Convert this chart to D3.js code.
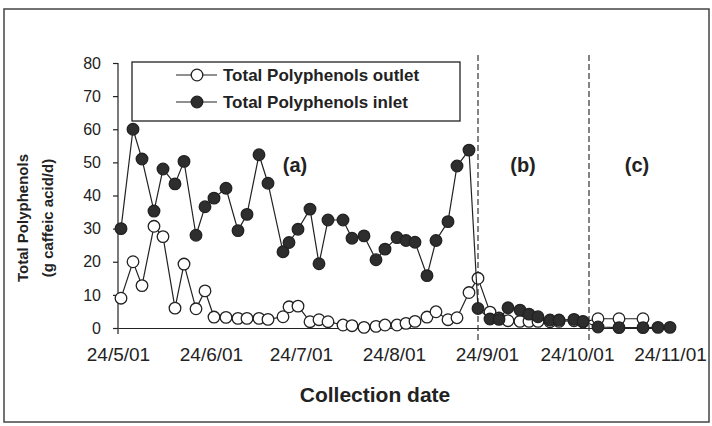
<!DOCTYPE html>
<html>
<head>
<meta charset="utf-8">
<script src="https://cdn.jsdelivr.net/npm/d3@7"></script>
<style>
  body { margin: 0; background: #fff; }
  text { font-family: "Liberation Sans", Arial, sans-serif; fill: #222; }
</style>
</head>
<body>
<script>
const width = 712;
const height = 426;

// sampling dates (2001) and daily loads, g caffeic acid/d
const dates = [
    "2001-05-25", "2001-05-29", "2001-06-01", "2001-06-05", "2001-06-08",
    "2001-06-12", "2001-06-15", "2001-06-19", "2001-06-22", "2001-06-25",
    "2001-06-29", "2001-07-03", "2001-07-06", "2001-07-10", "2001-07-13",
    "2001-07-18", "2001-07-20", "2001-07-23", "2001-07-27", "2001-07-30",
    "2001-08-02", "2001-08-07", "2001-08-10", "2001-08-14", "2001-08-18",
    "2001-08-21", "2001-08-25", "2001-08-28", "2001-08-31", "2001-09-04",
    "2001-09-07", "2001-09-11", "2001-09-14", "2001-09-18", "2001-09-21",
    "2001-09-25", "2001-09-28", "2001-10-01", "2001-10-05", "2001-10-08",
    "2001-10-11", "2001-10-15", "2001-10-18", "2001-10-23", "2001-10-26",
    "2001-10-31", "2001-11-07", "2001-11-15", "2001-11-20", "2001-11-24"
];
const outlet = [
    9, 20, 12.8, 30.7, 27.6, 6, 19.3, 5.8, 11.2, 3.3,
    3.2, 2.9, 2.9, 2.9, 2.6, 3.4, 6.4, 6.6, 1.9, 2.5,
    1.9, 0.9, 0.7, 0.2, 0.5, 0.9, 0.9, 1.4, 2.0, 3.3,
    4.9, 2.5, 3.1, 10.7, 15, 4.8, 3.0, 2.2, 2.0, 2.0,
    2.0, 1.9, 2.0, 2.2, 1.8, 2.8, 2.8, 2.8, null, null
];
const inlet = [
    30, 60, 51, 35.3, 48, 43.5, 50.3, 28, 36.6, 39.2,
    42.2, 29.4, 34.3, 52.3, 43.7, 23, 25.8, 29.8, 35.9, 19.4,
    32.6, 32.6, 27.1, 27.8, 20.6, 23.8, 27.3, 26.4, 25.9, 15.8,
    26.4, 32.1, 48.9, 53.7, 5.9, 2.7, 2.6, 6.1, 5.4, 4.2,
    3.4, 2.4, 2.4, 2.6, 2.0, 0.3, 0.1, 0.1, 0.2, 0.2
];
const yTicks = [0, 10, 20, 30, 40, 50, 60, 70, 80];
const xTicks = ["2001-05-24", "2001-06-24", "2001-07-24", "2001-08-24",
    "2001-09-24", "2001-10-24", "2001-11-24"];
const dividers = ["2001-09-21", "2001-10-28"];
const phaseLabels = ["(a)", "(b)", "(c)"];
const phaseDates = ["2001-07-22", "2001-10-06", "2001-11-13"];
const seriesNames = ["Total Polyphenols outlet", "Total Polyphenols inlet"];

const parse = d3.timeParse("%Y-%m-%d");
const fmt = d3.timeFormat("%-d/%-m/%y");

const svg = d3.select("body").append("svg")
    .attr("width", width)
    .attr("height", height);

// outer frame
svg.append("rect")
    .attr("x", 4).attr("y", 9)
    .attr("width", 705).attr("height", 413)
    .attr("fill", "none")
    .attr("stroke", "#444")
    .attr("stroke-width", 1.5);

const x = d3.scaleTime()
    .domain([parse("2001-05-24"), parse("2001-11-24")])
    .range([118, 670]);
const y = d3.scaleLinear()
    .domain([0, 80])
    .range([328, 63]);

// y axis
const yAxis = svg.append("g")
    .attr("transform", "translate(118,0)")
    .call(d3.axisLeft(y).tickValues(yTicks).tickSize(5).tickPadding(12));
yAxis.select(".domain").attr("stroke", "#222").attr("stroke-width", 1.2)
    .attr("d", "M0,63V334");
yAxis.selectAll(".tick line").attr("stroke", "#222").attr("stroke-width", 1.2);
yAxis.selectAll(".tick text")
    .attr("font-size", "16px")
    .attr("font-family", "Liberation Sans, Arial, sans-serif")
    .attr("fill", "#222");

// x axis
const xAxis = svg.append("g")
    .attr("transform", "translate(0,328)")
    .call(d3.axisBottom(x).tickValues(xTicks.map(parse)).tickFormat(fmt)
        .tickSize(0).tickSizeOuter(0).tickPadding(20));
xAxis.select(".domain").attr("stroke", "#222").attr("stroke-width", 1.2);
xAxis.selectAll(".tick text")
    .attr("font-size", "19px")
    .attr("font-family", "Liberation Sans, Arial, sans-serif")
    .attr("fill", "#222");

// axis titles
svg.append("text")
    .attr("x", 375).attr("y", 402)
    .attr("text-anchor", "middle")
    .attr("font-size", "21px")
    .attr("font-weight", "bold")
    .text("Collection date");

const yTitle = svg.append("text")
    .attr("transform", "translate(23,218) rotate(-90)")
    .attr("text-anchor", "middle")
    .attr("font-size", "15px")
    .attr("font-weight", "bold");
yTitle.append("tspan").attr("x", 0).attr("dy", "0.35em").text("Total Polyphenols");
yTitle.append("tspan").attr("x", 0).attr("dy", "1.65em").text("(g caffeic acid/d)");

// phase dividers
svg.selectAll(".divider")
    .data(dividers)
    .enter().append("line")
    .attr("class", "divider")
    .attr("x1", d => x(parse(d)))
    .attr("x2", d => x(parse(d)))
    .attr("y1", 55)
    .attr("y2", 340)
    .attr("stroke", "#333")
    .attr("stroke-width", 1.2)
    .attr("stroke-dasharray", "6,3");

svg.selectAll(".phase")
    .data(phaseLabels)
    .enter().append("text")
    .attr("class", "phase")
    .attr("x", (d, i) => x(parse(phaseDates[i])))
    .attr("y", 172)
    .attr("text-anchor", "middle")
    .attr("font-size", "20px")
    .attr("font-weight", "bold")
    .text(d => d);

// series
const rows = dates.map((d, i) => ({ date: parse(d), outlet: outlet[i], inlet: inlet[i] }));

function drawSeries(key, fill) {
    const pts = rows.filter(r => r[key] != null);
    const line = d3.line()
        .x(d => x(d.date))
        .y(d => y(d[key]));
    svg.append("path")
        .datum(pts)
        .attr("d", line)
        .attr("fill", "none")
        .attr("stroke", "#222")
        .attr("stroke-width", 1.2);
    svg.append("g").selectAll("circle")
        .data(pts)
        .enter().append("circle")
        .attr("cx", d => x(d.date))
        .attr("cy", d => y(d[key]))
        .attr("r", 5.8)
        .attr("fill", fill)
        .attr("stroke", "#222")
        .attr("stroke-width", 1.3);
}

drawSeries("outlet", "#fff");
drawSeries("inlet", "#2e2e2e");

// legend
const legend = svg.append("g");
legend.append("rect")
    .attr("x", 132).attr("y", 62)
    .attr("width", 328).attr("height", 59)
    .attr("fill", "#fff")
    .attr("stroke", "#222")
    .attr("stroke-width", 1.3);

const fills = ["#fff", "#2e2e2e"];
seriesNames.forEach((name, i) => {
    const ly = 75 + i * 27;
    legend.append("line")
        .attr("x1", 176).attr("x2", 217)
        .attr("y1", ly).attr("y2", ly)
        .attr("stroke", "#222")
        .attr("stroke-width", 1.2);
    legend.append("circle")
        .attr("cx", 197).attr("cy", ly)
        .attr("r", 5.8)
        .attr("fill", fills[i])
        .attr("stroke", "#222")
        .attr("stroke-width", 1.3);
    legend.append("text")
        .attr("x", 223).attr("y", ly)
        .attr("dy", "0.35em")
        .attr("font-size", "17px")
        .attr("font-weight", "bold")
        .text(name);
});
</script>
</body>
</html>
